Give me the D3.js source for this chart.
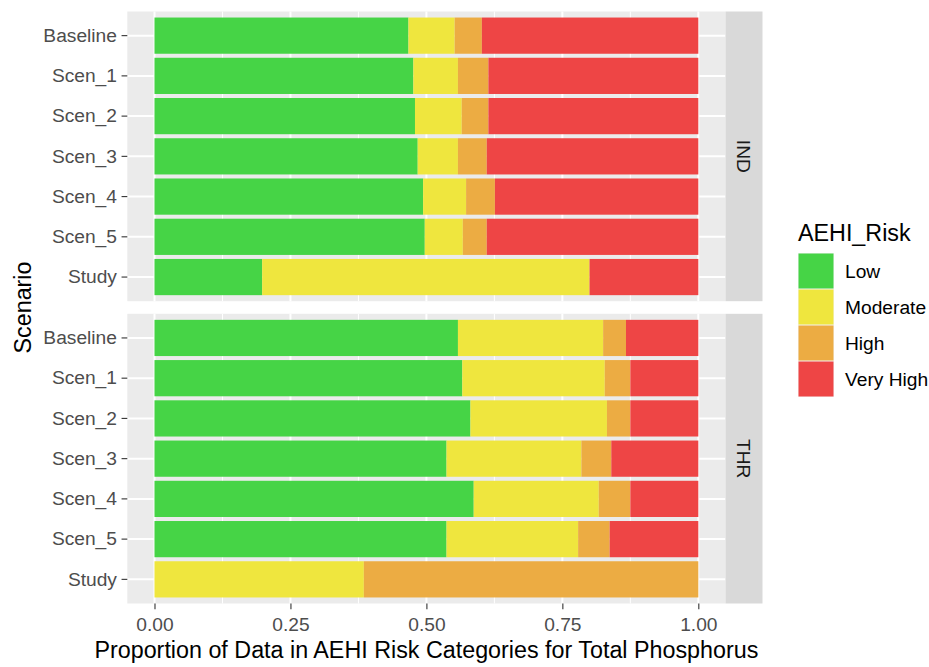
<!DOCTYPE html>
<html>
<head>
<meta charset="utf-8">
<script src="https://cdn.jsdelivr.net/npm/d3@7"></script>
<style>
  html, body { margin: 0; padding: 0; background: #ffffff; }
  svg { display: block; font-family: "Liberation Sans", Arial, sans-serif; }
</style>
</head>
<body>
<svg id="chart" width="929" height="667"></svg>
<script>
// Scenario categories (top to bottom within each facet)
const scenarios = ["Baseline", "Scen_1", "Scen_2", "Scen_3", "Scen_4", "Scen_5", "Study"];
const facets = ["IND", "THR"];
const riskLevels = ["Low", "Moderate", "High", "Very High"];
const riskColors = ["#46d446", "#efe63e", "#ecac43", "#ee4545"];

// Proportions per risk category, IND facet
const indLow      = [0.467, 0.476, 0.479, 0.484, 0.494, 0.497, 0.198];
const indModerate = [0.085, 0.082, 0.086, 0.074, 0.079, 0.070, 0.602];
const indHigh     = [0.050, 0.056, 0.049, 0.053, 0.053, 0.044, 0.000];
const indVeryHigh = [0.398, 0.386, 0.386, 0.389, 0.374, 0.389, 0.200];

// Proportions per risk category, THR facet
const thrLow      = [0.558, 0.566, 0.581, 0.537, 0.587, 0.537, 0.000];
const thrModerate = [0.267, 0.262, 0.251, 0.248, 0.230, 0.242, 0.385];
const thrHigh     = [0.042, 0.047, 0.043, 0.055, 0.058, 0.058, 0.615];
const thrVeryHigh = [0.133, 0.125, 0.125, 0.160, 0.125, 0.163, 0.000];

const xTicks = [0, 0.25, 0.5, 0.75, 1];
const xTickLabels = ["0.00", "0.25", "0.50", "0.75", "1.00"];
const xMinorTicks = [0.125, 0.375, 0.625, 0.875];

const facetSeries = {
  IND: [indLow, indModerate, indHigh, indVeryHigh],
  THR: [thrLow, thrModerate, thrHigh, thrVeryHigh]
};

// Layout
const panelLeft = 127.3, panelRight = 725.5;
const panels = [
  { key: "IND", top: 11.5, bottom: 301.2 },
  { key: "THR", top: 313.8, bottom: 603.5 }
];
const stripWidth = 37;
const tickLen = 5.75, tickPad = 4.6;
const tickFont = 19.2, titleFont = 23.3;
const fontFamily = "'Liberation Sans', Arial, sans-serif";

const svg = d3.select("#chart");

const x = d3.scaleLinear().domain([-0.05, 1.05]).range([panelLeft, panelRight]);

panels.forEach(p => {
  const series = facetSeries[p.key];
  const rows = scenarios.map((s, i) => {
    const r = { scenario: s };
    riskLevels.forEach((lvl, j) => { r[lvl] = series[j][i]; });
    return r;
  });
  const stacked = d3.stack().keys(riskLevels)(rows);

  const y = d3.scaleBand()
    .domain(scenarios)
    .range([p.top, p.bottom])
    .paddingInner(0.1)
    .paddingOuter(0.15);

  const g = svg.append("g");

  // panel background
  g.append("rect")
    .attr("x", panelLeft).attr("y", p.top)
    .attr("width", panelRight - panelLeft).attr("height", p.bottom - p.top)
    .attr("fill", "#ebebeb");

  // grid lines
  g.selectAll("line.minor").data(xMinorTicks).join("line")
    .attr("x1", d => x(d)).attr("x2", d => x(d))
    .attr("y1", p.top).attr("y2", p.bottom)
    .attr("stroke", "#ffffff").attr("stroke-width", 1);
  g.selectAll("line.major").data(xTicks).join("line")
    .attr("x1", d => x(d)).attr("x2", d => x(d))
    .attr("y1", p.top).attr("y2", p.bottom)
    .attr("stroke", "#ffffff").attr("stroke-width", 2);
  g.selectAll("line.hmajor").data(scenarios).join("line")
    .attr("x1", panelLeft).attr("x2", panelRight)
    .attr("y1", d => y(d) + y.bandwidth() / 2).attr("y2", d => y(d) + y.bandwidth() / 2)
    .attr("stroke", "#ffffff").attr("stroke-width", 2);

  // stacked bars
  stacked.forEach((layer, li) => {
    g.append("g").attr("fill", riskColors[li])
      .selectAll("rect").data(layer).join("rect")
      .attr("x", d => x(d[0]))
      .attr("width", d => Math.max(0, x(d[1]) - x(d[0])))
      .attr("y", d => y(d.data.scenario))
      .attr("height", y.bandwidth());
  });

  // y axis
  const ya = svg.append("g")
    .attr("transform", `translate(${panelLeft},0)`)
    .call(d3.axisLeft(y).tickSize(tickLen).tickPadding(tickPad));
  ya.select(".domain").remove();
  ya.selectAll(".tick line").attr("stroke", "#333333").attr("stroke-width", 1.1);
  ya.selectAll(".tick text")
    .attr("fill", "#4d4d4d")
    .style("font-size", tickFont + "px")
    .style("font-family", fontFamily);

  // facet strip
  svg.append("rect")
    .attr("x", panelRight).attr("y", p.top)
    .attr("width", stripWidth).attr("height", p.bottom - p.top)
    .attr("fill", "#d9d9d9");
  const sx = panelRight + stripWidth / 2, sy = (p.top + p.bottom) / 2;
  svg.append("text")
    .attr("transform", `translate(${sx},${sy}) rotate(90)`)
    .attr("text-anchor", "middle")
    .attr("dy", "0.35em")
    .attr("fill", "#1a1a1a")
    .style("font-size", tickFont + "px")
    .text(p.key);
});

// x axis under the lower panel
const xa = svg.append("g")
  .attr("transform", `translate(0,${panels[1].bottom})`)
  .call(d3.axisBottom(x).tickValues(xTicks).tickFormat((d, i) => xTickLabels[i])
    .tickSize(tickLen).tickPadding(tickPad));
xa.select(".domain").remove();
xa.selectAll(".tick line").attr("stroke", "#333333").attr("stroke-width", 1.1);
xa.selectAll(".tick text")
  .attr("fill", "#4d4d4d")
  .attr("dy", "0.9em")
  .style("font-size", tickFont + "px")
  .style("font-family", fontFamily);

// axis titles
svg.append("text")
  .attr("x", (panelLeft + panelRight) / 2).attr("y", 658)
  .attr("text-anchor", "middle")
  .attr("fill", "#000000")
  .style("font-size", titleFont + "px")
  .text("Proportion of Data in AEHI Risk Categories for Total Phosphorus");

svg.append("text")
  .attr("transform", `translate(31,${(panels[0].top + panels[1].bottom) / 2}) rotate(-90)`)
  .attr("text-anchor", "middle")
  .attr("fill", "#000000")
  .style("font-size", titleFont + "px")
  .text("Scenario");

// legend
const legX = 798, legTitleY = 241, keyTop = 253, keySize = 36;
const legend = svg.append("g");
legend.append("text")
  .attr("x", legX).attr("y", legTitleY)
  .attr("fill", "#000000")
  .style("font-size", titleFont + "px")
  .text("AEHI_Risk");
const items = legend.selectAll("g.item").data(riskLevels).join("g")
  .attr("transform", (d, i) => `translate(${legX},${keyTop + i * keySize})`);
items.append("rect")
  .attr("width", keySize).attr("height", keySize)
  .attr("fill", "#f2f2f2");
items.append("rect")
  .attr("x", 0.5).attr("y", 0.5)
  .attr("width", keySize - 1).attr("height", keySize - 1)
  .attr("fill", (d, i) => riskColors[i]);
items.append("text")
  .attr("x", keySize + 11).attr("y", keySize / 2)
  .attr("dy", "0.35em")
  .attr("fill", "#000000")
  .style("font-size", tickFont + "px")
  .text(d => d);
</script>
</body>
</html>
